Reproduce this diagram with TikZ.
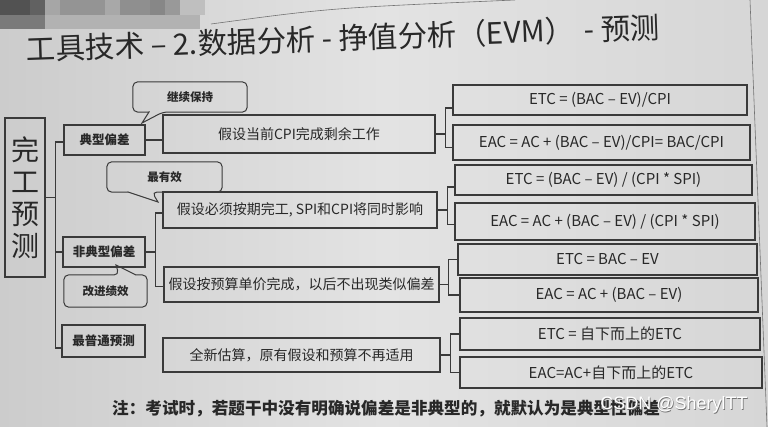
\documentclass[tikz,border=0pt]{standalone}
\usepackage{fontspec}
\setmainfont{Noto Sans CJK SC}
\newfontfamily\wmfont{Liberation Sans}
\usetikzlibrary{calc}
\definecolor{ink}{RGB}{40,40,40}
\definecolor{edgec}{RGB}{58,58,58}
\definecolor{bgL}{RGB}{204,204,204}
\definecolor{bgC}{RGB}{227,227,227}
\definecolor{bgR}{RGB}{214,214,214}
\tikzset{
  box/.style={draw=edgec, line width=1.1pt, inner sep=0pt, text=ink, anchor=center},
  lbl/.style={box, font=\fontsize{12.5}{14}\selectfont\bfseries},
  mid/.style={box, font=\fontsize{14}{16}\selectfont},
  frm/.style={box, font=\fontsize{15}{17}\selectfont},
  ctext/.style={inner sep=0pt, text=ink, font=\fontsize{11.5}{13}\selectfont\bfseries},
  cline/.style={draw=edgec, line width=1pt, rounded corners=5pt},
  conn/.style={draw=edgec, line width=1.1pt},
}
\begin{document}
\begin{tikzpicture}[x=1pt,y=-1pt]
\useasboundingbox (0,0) rectangle (768,427);
\shade[left color=bgL, right color=bgR, middle color=bgC] (0,0) rectangle (768,427);
% mosaic at top left
\fill[black!68] (0,0) rectangle (30,15);
\fill[black!62] (30,0) rectangle (45,15);
\fill[black!35] (45,0) rectangle (60,15);
\fill[black!42] (60,0) rectangle (105,15);
\fill[black!34] (105,0) rectangle (120,15);
\fill[black!44] (120,0) rectangle (150,15);
\fill[black!47] (150,0) rectangle (165,15);
\fill[black!40] (165,0) rectangle (180,15);
\fill[black!25] (180,0) rectangle (205,15);
\fill[black!52] (0,15) rectangle (45,29);
\fill[black!30] (45,15) rectangle (200,29);
% page edges
\draw[black!55, line width=0.6pt] (211,24) .. controls (330,8) .. (515,0);
\draw[black!55, line width=0.6pt] (750,0) -- (767,427);

% title
\node[anchor=west, text=ink, inner sep=0pt, rotate=2, font=\fontsize{29.5}{31}\selectfont] (title) at (26,49)
  {工具技术 – 2.数据分析 - 挣值分析（EVM）\hspace{10pt}- 预测};

% root
\node[box, minimum width=40, minimum height=159, align=center,
      font=\fontsize{28}{32}\selectfont] (root) at (25,197.5) {完\\工\\预\\测};

% level 1
\node[lbl, minimum width=81, minimum height=30] (t1) at (104.5,140) {典型偏差};
\node[lbl, minimum width=82, minimum height=30] (t2) at (104,252) {非典型偏差};
\node[lbl, minimum width=83, minimum height=32] (t3) at (103.5,341) {最普通预测};

% level 2
\node[mid, minimum width=272, minimum height=38] (m1) at (299,134) {假设当前CPI完成剩余工作};
\node[mid, minimum width=274, minimum height=36] (m2) at (300,210) {假设必须按期完工, SPI和CPI将同时影响};
\node[mid, minimum width=275, minimum height=35] (m3) at (301.5,284.5) {假设按预算单价完成，以后不出现类似偏差};
\node[mid, minimum width=277, minimum height=34] (m4) at (301.5,355) {全新估算，原有假设和预算不再适用};

% level 3
\node[frm, minimum width=294, minimum height=30] (r1) at (600,100) {ETC = (BAC – EV)/CPI};
\node[frm, minimum width=297, minimum height=35] (r2) at (601.5,142.5) {EAC = AC + (BAC – EV)/CPI= BAC/CPI};
\node[frm, minimum width=297, minimum height=30] (r3) at (603.5,180) {ETC = (BAC – EV) / (CPI * SPI)};
\node[frm, minimum width=300, minimum height=37] (r4) at (605,221.5) {EAC = AC + (BAC – EV) / (CPI * SPI)};
\node[frm, minimum width=299, minimum height=31] (r5) at (607.5,259.5) {ETC = BAC – EV};
\node[frm, minimum width=298, minimum height=34] (r6) at (609,295) {EAC = AC + (BAC – EV)};
\node[frm, minimum width=300, minimum height=32] (r7) at (610,334) {ETC = 自下而上的ETC};
\node[frm, minimum width=302, minimum height=31] (r8) at (611,372.5) {EAC=AC+自下而上的ETC};

% root trunk
\coordinate (tr) at ([xshift=10pt]root.east);
\draw[conn] (root.east) -- (tr);
\draw[conn] ([yshift=-2pt]t1.west) -| (tr) |- ([yshift=-7pt]t3.west);
\draw[conn] (tr |- t2.west) -- (t2.west);

% level1 -> level2
\draw[conn] (t1.east) -- (t1.east -| m1.west);
\coordinate (k2) at ([xshift=10pt]t2.east);
\draw[conn] (t2.east) -- (k2);
\draw[conn] ([yshift=-3pt]m2.west) -| (k2) |- ([yshift=-2pt]m3.west);

% level2 -> level3
\coordinate (j1) at ([xshift=10pt]m1.east);
\draw[conn] (m1.east) -- (j1);
\draw[conn] ([yshift=-8pt]r1.west) -| (j1) |- ([yshift=-5pt]r2.west);
\coordinate (j2) at ([xshift=10pt]m2.east);
\draw[conn] (m2.east) -- (j2);
\draw[conn] ([yshift=-7pt]r3.west) -| (j2) |- ([yshift=-3pt]r4.west);
\coordinate (j3) at ([xshift=9pt]m3.east);
\draw[conn] (m3.east) -- (j3);
\draw[conn] (r5.west) -| (j3) |- (r6.west);
\coordinate (j4) at ([xshift=10pt]m4.east);
\draw[conn] (m4.east) -- (j4);
\draw[conn] (r7.west) -| (j4) |- (r8.west);

% callouts
\node[ctext, minimum width=114, minimum height=30] (c1) at (190,97) {继续保持};
\draw[cline] (c1.north) -- (c1.north east) -- (c1.south east) -- (163,112)
  [sharp corners] -- (142,123) -- (149,112) [rounded corners=5pt] -- (c1.south west) -- (c1.north west) -- cycle;
\node[ctext, minimum width=115, minimum height=30] (c2) at (164.5,177) {最有效};
\draw[cline] (c2.north) -- (c2.north east) -- (c2.south east) -- (152,192)
  [sharp corners] -- (158,202) -- (128,192) [rounded corners=5pt] -- (c2.south west) -- (c2.north west) -- cycle;
\node[ctext, minimum width=83, minimum height=32] (c3) at (105.5,291) {改进绩效};
\draw[cline] (c3.south) -- (c3.south west) -- (c3.north west) -- (119,275)
  [sharp corners] -- (116,265) -- (136,275) [rounded corners=5pt] -- (c3.north east) -- (c3.south east) -- cycle;

% footnote
\node[anchor=west, text=ink, inner sep=0pt, font=\fontsize{16.6}{19}\selectfont\bfseries] (note) at (112,409)
  {注：考试时，若题干中没有明确说偏差是非典型的，就默认为是典型性偏差};

% watermark
\node[text=black!55, inner sep=0pt, font=\wmfont\fontsize{18}{20}\selectfont] (wms) at (674.8,405.8) {CSDN @SherylTT};
\node[text=white, inner sep=0pt, font=\wmfont\fontsize{18}{20}\selectfont] (wm) at (674,405) {CSDN @SherylTT};
\end{tikzpicture}
\end{document}
